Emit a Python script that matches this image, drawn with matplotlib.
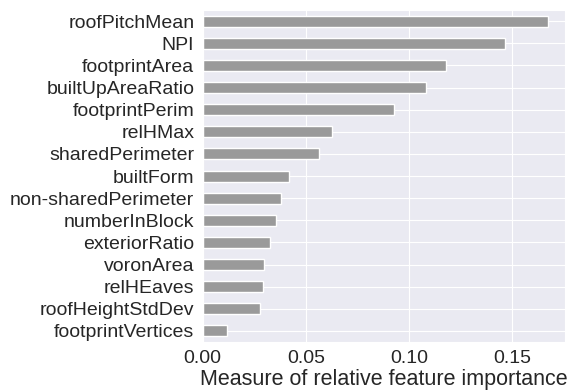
import matplotlib
matplotlib.use("Agg")
import matplotlib.pyplot as plt
import seaborn as sns

features = ["roofPitchMean", "NPI", "footprintArea", "builtUpAreaRatio", "footprintPerim",
            "relHMax", "sharedPerimeter", "builtForm", "non-sharedPerimeter", "numberInBlock",
            "exteriorRatio", "voronArea", "relHEaves", "roofHeightStdDev", "footprintVertices"]
importance = [0.1671, 0.1466, 0.1177, 0.1082, 0.0925, 0.0626, 0.0565, 0.0420, 0.0378,
              0.0357, 0.0326, 0.0295, 0.0291, 0.0279, 0.0116]
xticks = [0.00, 0.05, 0.10, 0.15]
xlabel = "Measure of relative feature importance"

sns.set_style("darkgrid")
plt.rcParams['font.family'] = ['Liberation Sans', 'DejaVu Sans']

fig = plt.figure(figsize=(5.7, 3.9), dpi=100)
ax = fig.add_axes([0.3556, 0.123, 0.6354, 0.851])
ypos = list(range(len(features)))[::-1]
ax.barh(ypos, importance, height=0.5, color="#9a9a9a")
ax.set_yticks(ypos)
ax.set_yticklabels(features, fontsize=14, color="#262626")
ax.set_xticks(xticks)
ax.set_xticklabels([f"{t:.2f}" for t in xticks], fontsize=14, color="#262626")
ax.set_xlim(0, 0.1755)
ax.set_ylim(-0.5, len(features) - 0.5)
ax.set_xlabel(xlabel, fontsize=15.5, color="#262626", labelpad=1)
ax.tick_params(length=0, pad=6)
ax.grid(axis="y", visible=True)
fig.savefig("out.png", dpi=100)
